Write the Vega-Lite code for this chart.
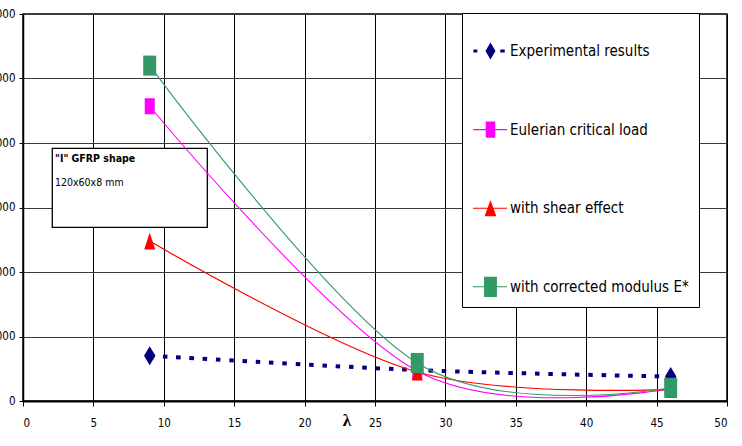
{
  "$schema": "https://vega.github.io/schema/vega-lite/v6.json",
  "width": 704,
  "height": 387,
  "autosize": "none",
  "padding": {"left": 23, "top": 14, "right": 15, "bottom": 45},
  "background": "#ffffff",
  "config": {
    "font": "DejaVu Sans Condensed",
    "view": {"stroke": "#000000", "strokeWidth": 1.5},
    "axis": {"labelFont": "DejaVu Sans Condensed", "labelColor": "#000000", "labelFontSize": 11.5, "tickColor": "#000000", "domainColor": "#000000"},
    "legend": {
      "labelFont": "DejaVu Sans Condensed",
      "orient": "none", "legendX": 439, "legendY": -1,
      "padding": 10, "rowPadding": 41.6,
      "symbolSize": 3136, "labelOffset": -18,
      "symbolStrokeWidth": 0,
      "strokeColor": "#000000", "fillColor": "#ffffff",
      "labelFontSize": 15, "labelColor": "#000000", "labelLimit": 400
    },
    "text": {"font": "DejaVu Sans Condensed"}
  },
  "datasets": {
    "series": [
      {"series": "Experimental results", "lambda": 9, "load": 702},
      {"series": "Experimental results", "lambda": 28, "load": 480},
      {"series": "Experimental results", "lambda": 46, "load": 380},
      {"series": "Eulerian critical load", "lambda": 9, "load": 4570},
      {"series": "Eulerian critical load", "lambda": 28, "load": 465},
      {"series": "Eulerian critical load", "lambda": 46, "load": 190},
      {"series": "with shear effect", "lambda": 9, "load": 2480},
      {"series": "with shear effect", "lambda": 28, "load": 450},
      {"series": "with shear effect", "lambda": 46, "load": 180},
      {"series": "with corrected modulus E*", "lambda": 9, "load": 5200},
      {"series": "with corrected modulus E*", "lambda": 28, "load": 590},
      {"series": "with corrected modulus E*", "lambda": 46, "load": 205}
    ],
    "note": [
      {"kind": "box", "x1": 2.08, "x2": 13.09, "y1": 3918, "y2": 2693},
      {"kind": "title", "x1": 2.27, "y1": 3700, "label": "\"I\" GFRP shape"},
      {"kind": "sub", "x1": 2.27, "y1": 3335, "label": "120x60x8 mm"}
    ]
  },
  "encoding": {
    "x": {
      "field": "lambda", "type": "quantitative",
      "scale": {"domain": [0, 50], "nice": false},
      "axis": {
        "values": [0, 5, 10, 15, 20, 25, 30, 35, 40, 45, 50],
        "grid": true, "gridColor": "#000000", "gridWidth": 1,
        "domainWidth": 2, "tickSize": 5, "labelPadding": 11,
        "title": "λ", "titleFont": "Liberation Serif", "titleFontWeight": "bold", "titleFontSize": 17,
        "titleX": 323.5, "titleY": 11, "titleBaseline": "top", "titleAlign": "center", "titleAnchor": null
      }
    },
    "y": {
      "field": "load", "type": "quantitative",
      "scale": {"domain": [0, 6000], "nice": false},
      "axis": {
        "values": [0, 1000, 2000, 3000, 4000, 5000, 6000],
        "format": "d",
        "grid": true, "gridColor": "#3a3a3a", "gridWidth": 1.2,
        "domainWidth": 1.5, "tickSize": 4, "labelPadding": 4,
        "title": null
      }
    }
  },
  "layer": [
    {
      "data": {"name": "note"},
      "transform": [{"filter": "datum.kind === 'box'"}],
      "mark": {"type": "rect", "fill": "#ffffff", "stroke": "#000000", "strokeWidth": 1.3},
      "encoding": {
        "x": {"field": "x1", "type": "quantitative"},
        "x2": {"field": "x2"},
        "y": {"field": "y1", "type": "quantitative"},
        "y2": {"field": "y2"}
      }
    },
    {
      "data": {"name": "note"},
      "transform": [{"filter": "datum.kind === 'title'"}],
      "mark": {"type": "text", "align": "left", "baseline": "alphabetic", "fontWeight": "bold", "fontSize": 10.5, "color": "#000000"},
      "encoding": {
        "x": {"field": "x1", "type": "quantitative"},
        "y": {"field": "y1", "type": "quantitative"},
        "text": {"field": "label"}
      }
    },
    {
      "data": {"name": "note"},
      "transform": [{"filter": "datum.kind === 'sub'"}],
      "mark": {"type": "text", "align": "left", "baseline": "alphabetic", "fontSize": 10.5, "color": "#000000"},
      "encoding": {
        "x": {"field": "x1", "type": "quantitative"},
        "y": {"field": "y1", "type": "quantitative"},
        "text": {"field": "label"}
      }
    },
    {
      "data": {"name": "series"},
      "transform": [{"filter": "datum.lambda < 0"}],
      "mark": {"type": "point", "filled": true, "size": 400, "strokeWidth": 0, "opacity": 1},
      "encoding": {
        "color": {
          "field": "series", "type": "nominal",
          "sort": ["Experimental results", "Eulerian critical load", "with shear effect", "with corrected modulus E*"],
          "scale": {
            "domain": ["Experimental results", "Eulerian critical load", "with shear effect", "with corrected modulus E*"],
            "range": ["#000080", "#ff00ff", "#ff0000", "#339966"]
          },
          "legend": {"title": null}
        },
        "shape": {
          "field": "series", "type": "nominal",
          "sort": ["Experimental results", "Eulerian critical load", "with shear effect", "with corrected modulus E*"],
          "scale": {
            "domain": ["Experimental results", "Eulerian critical load", "with shear effect", "with corrected modulus E*"],
            "range": [
              "M-0.95,-0.055H-0.81V0.055H-0.95Z M0.01,-0.055H0.17V0.055H0.01Z M-0.34,-0.3L-0.16,0L-0.34,0.3L-0.52,0Z",
              "M-0.964,-0.02H0.25V0.02H-0.964Z M-0.51,-0.29H-0.17V0.29H-0.51Z",
              "M-0.964,-0.02H0.25V0.02H-0.964Z M-0.34,-0.29L-0.13,0.29H-0.55Z",
              "M-0.964,-0.02H0.25V0.02H-0.964Z M-0.57,-0.36H-0.11V0.36H-0.57Z"
            ]
          },
          "legend": {"title": null}
        }
      }
    },
    {
      "data": {"name": "series"},
      "transform": [{"filter": "datum.series === 'Experimental results'"}],
      "mark": {"type": "line", "interpolate": "cardinal", "color": "#000080", "strokeWidth": 4, "strokeDash": [4.5, 8.8], "strokeCap": "butt"}
    },
    {
      "data": {"name": "series"},
      "transform": [{"filter": "datum.series === 'Eulerian critical load'"}],
      "mark": {"type": "line", "interpolate": "cardinal", "color": "#ff00ff", "strokeWidth": 1.1}
    },
    {
      "data": {"name": "series"},
      "transform": [{"filter": "datum.series === 'with shear effect'"}],
      "mark": {"type": "line", "interpolate": "cardinal", "color": "#ff0000", "strokeWidth": 1.2}
    },
    {
      "data": {"name": "series"},
      "transform": [{"filter": "datum.series === 'with corrected modulus E*'"}],
      "mark": {"type": "line", "interpolate": "cardinal", "color": "#339966", "strokeWidth": 1.1}
    },
    {
      "data": {"name": "series"},
      "transform": [{"filter": "datum.series === 'Experimental results'"}],
      "mark": {"type": "point", "filled": true, "size": 400, "strokeWidth": 0, "opacity": 1, "color": "#000080", "shape": "M0,-0.95L0.575,0L0,0.95L-0.575,0Z"}
    },
    {
      "data": {"name": "series"},
      "transform": [{"filter": "datum.series === 'Eulerian critical load'"}],
      "mark": {"type": "point", "filled": true, "size": 400, "strokeWidth": 0, "opacity": 1, "color": "#ff00ff", "shape": "M-0.5,-0.8H0.5V0.8H-0.5Z"}
    },
    {
      "data": {"name": "series"},
      "transform": [{"filter": "datum.series === 'with shear effect'"}],
      "mark": {"type": "point", "filled": true, "size": 400, "strokeWidth": 0, "opacity": 1, "color": "#ff0000", "shape": "M0,-0.85L0.55,0.85H-0.55Z"}
    },
    {
      "data": {"name": "series"},
      "transform": [{"filter": "datum.series === 'with corrected modulus E*'"}],
      "mark": {"type": "point", "filled": true, "size": 400, "strokeWidth": 0, "opacity": 1, "color": "#339966", "shape": "M-0.65,-1H0.65V1H-0.65Z"}
    }
  ]
}
